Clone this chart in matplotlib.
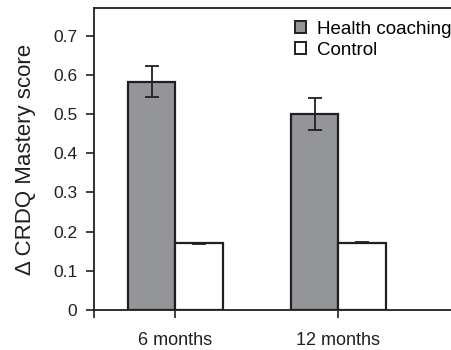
import numpy as np
from matplotlib import pyplot as plt

plt.rcParams['font.family'] = ['Liberation Sans', 'DejaVu Sans']

categories = ['6 months', '12 months']
coaching = [0.582, 0.500]
coaching_err = [0.040, 0.040]
control = [0.170, 0.172]
control_err = [0.002, 0.002]
y_ticks = [0, 0.1, 0.2, 0.3, 0.4, 0.5, 0.6, 0.7]
y_tick_labels = ['0', '0.1', '0.2', '0.3', '0.4', '0.5', '0.6', '0.7']


def main():
    fig = plt.figure(figsize=(4.52, 3.5), dpi=100)
    ax = fig.add_axes([0.208, 0.114, 0.80, 0.863])

    x = np.arange(len(categories))
    width = 0.29
    err_kw = dict(ecolor='#231f20', elinewidth=1.3, capsize=5, capthick=1.3)
    ax.bar(x - width / 2, coaching, width, yerr=coaching_err, color='#939598',
           edgecolor='#231f20', linewidth=1.6, label='Health coaching', error_kw=err_kw)
    ax.bar(x + width / 2, control, width, yerr=control_err, color='white',
           edgecolor='#231f20', linewidth=1.6, label='Control', error_kw=err_kw)

    ax.set_xlim(-0.5, 1.72)
    ax.set_ylim(0, 0.77)
    ax.set_xticks([-0.5, 0, 1])
    ax.set_xticklabels(['', categories[0], categories[1]])
    ax.set_yticks(y_ticks)
    ax.set_yticklabels(y_tick_labels)
    ax.tick_params(axis='y', labelsize=12.5, colors='#231f20', width=1.2, length=6, pad=6)
    ax.tick_params(axis='x', labelsize=13, colors='#231f20', width=1.2, length=6, pad=10)
    ax.spines['right'].set_visible(False)
    for side in ['left', 'bottom', 'top']:
        ax.spines[side].set_linewidth(1.3)
        ax.spines[side].set_color('#231f20')

    ax.set_ylabel('\u0394 CRDQ Mastery score', fontsize=16, color='#231f20', labelpad=12)

    leg = ax.legend(loc='upper left', bbox_to_anchor=(0.525, 0.995), frameon=False,
                    fontsize=13.5, handlelength=0.6, handleheight=0.6,
                    handletextpad=0.55, labelspacing=0.2, borderaxespad=0.2)
    for h in leg.legend_handles:
        h.set_linewidth(1.4)

    fig.savefig('out.png', dpi=100)


if __name__ == '__main__':
    main()
